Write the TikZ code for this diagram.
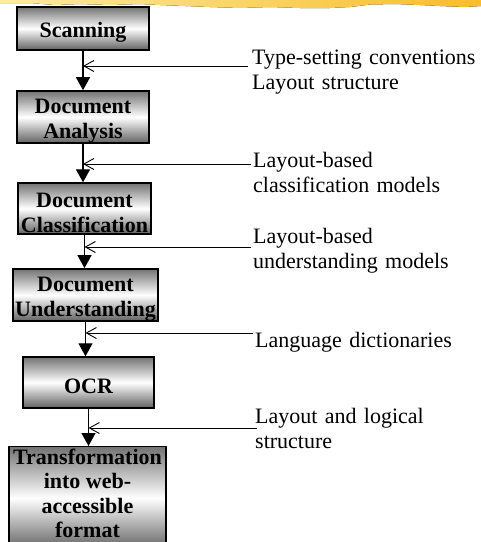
\documentclass[tikz,border=0pt]{standalone}
\usepackage{fontspec}
\setmainfont{Liberation Serif}
\usetikzlibrary{arrows.meta,calc}
\definecolor{brushlight}{HTML}{FCEBA2}
\definecolor{brushdark}{HTML}{F8BD2A}
\newcommand{\lowstrut}{\rule{0pt}{23pt}}
\begin{document}
\begin{tikzpicture}[x=1pt,y=-1pt,
  stage/.style={draw=black, line width=1.4pt, top color=black!55,
    bottom color=black!62, middle color=white,
    font=\bfseries\fontsize{22}{24.5}\selectfont,
    align=center, inner sep=0pt},
  note/.style={font=\fontsize{22}{25}\selectfont, align=left, anchor=base west,
    inner sep=0pt, text width=230pt},
  flow/.style={line width=1.3pt, -{Triangle[length=13pt,width=14pt]}},
  feed/.style={line width=0.9pt, -{Straight Barb[length=10pt,width=11pt]}}]
\useasboundingbox (0,0) rectangle (481,542);

% brush stroke along the top edge
\fill[left color=brushlight, right color=brushdark]
  (0,0) -- (481,0) -- (481,6) -- (465,7) -- (440,6) -- (420,5) -- (395,4)
  -- (370,4.5) -- (350,7) -- (330,8) -- (300,8) -- (270,7) -- (240,8)
  -- (210,7) -- (185,6) -- (160,5) -- (140,4) -- (110,5) -- (80,4)
  -- (55,5) -- (30,3) -- (0,3) -- cycle;

% processing stages
\node[stage, minimum width=132pt, minimum height=43pt] (scan) at (83,28.5) {\lowstrut Scanning};
\node[stage, minimum width=132pt, minimum height=52pt] (ana) at (83,117) {\lowstrut Document\\Analysis};
\node[stage, minimum width=133pt, minimum height=51pt] (cls) at (84.5,208.5) {\lowstrut Document\\Classification};
\node[stage, minimum width=145pt, minimum height=52pt] (und) at (85.5,295) {\lowstrut Document\\Understanding};
\node[stage, minimum width=131pt, minimum height=51pt] (ocr) at (88.5,382.5) {\lowstrut OCR};
\node[stage, minimum width=157pt, anchor=north, inner ysep=2pt] (web) at (87.5,446)
  {Transformation\\into web-\\accessible\\format\rule[-10pt]{0pt}{10pt}};

% knowledge sources
\node[note] (k1) at (252,64) {Type-setting conventions\\Layout structure};
\node[note] (k2) at (253,167) {Layout-based\\classification models};
\node[note] (k3) at (253,243) {Layout-based\\understanding models};
\node[note] (k4) at (255,347) {Language dictionaries};
\node[note] (k5) at (255,423) {Layout and logical\\structure};

\coordinate (e1) at (248,66);
\coordinate (e2) at (251,164);
\coordinate (e3) at (251,247);
\coordinate (e4) at (253,333);
\coordinate (e5) at (257,428);

% main flow
\draw[flow] (scan.south) -- (scan.south |- ana.north);
\draw[flow] (ana.south) -- (ana.south |- cls.north);
\draw[flow] (cls.south) -- (cls.south |- und.north);
\draw[flow] (und.south) -- (und.south |- ocr.north);
\draw[flow] (ocr.south) -- (ocr.south |- web.north);

% knowledge fed into each step
\draw[feed] (e1) -- (e1 -| scan.south);
\draw[feed] (e2) -- (e2 -| ana.south);
\draw[feed] (e3) -- (e3 -| cls.south);
\draw[feed] (e4) -- (e4 -| und.south);
\draw[feed] (e5) -- (e5 -| ocr.south);
\end{tikzpicture}
\end{document}
